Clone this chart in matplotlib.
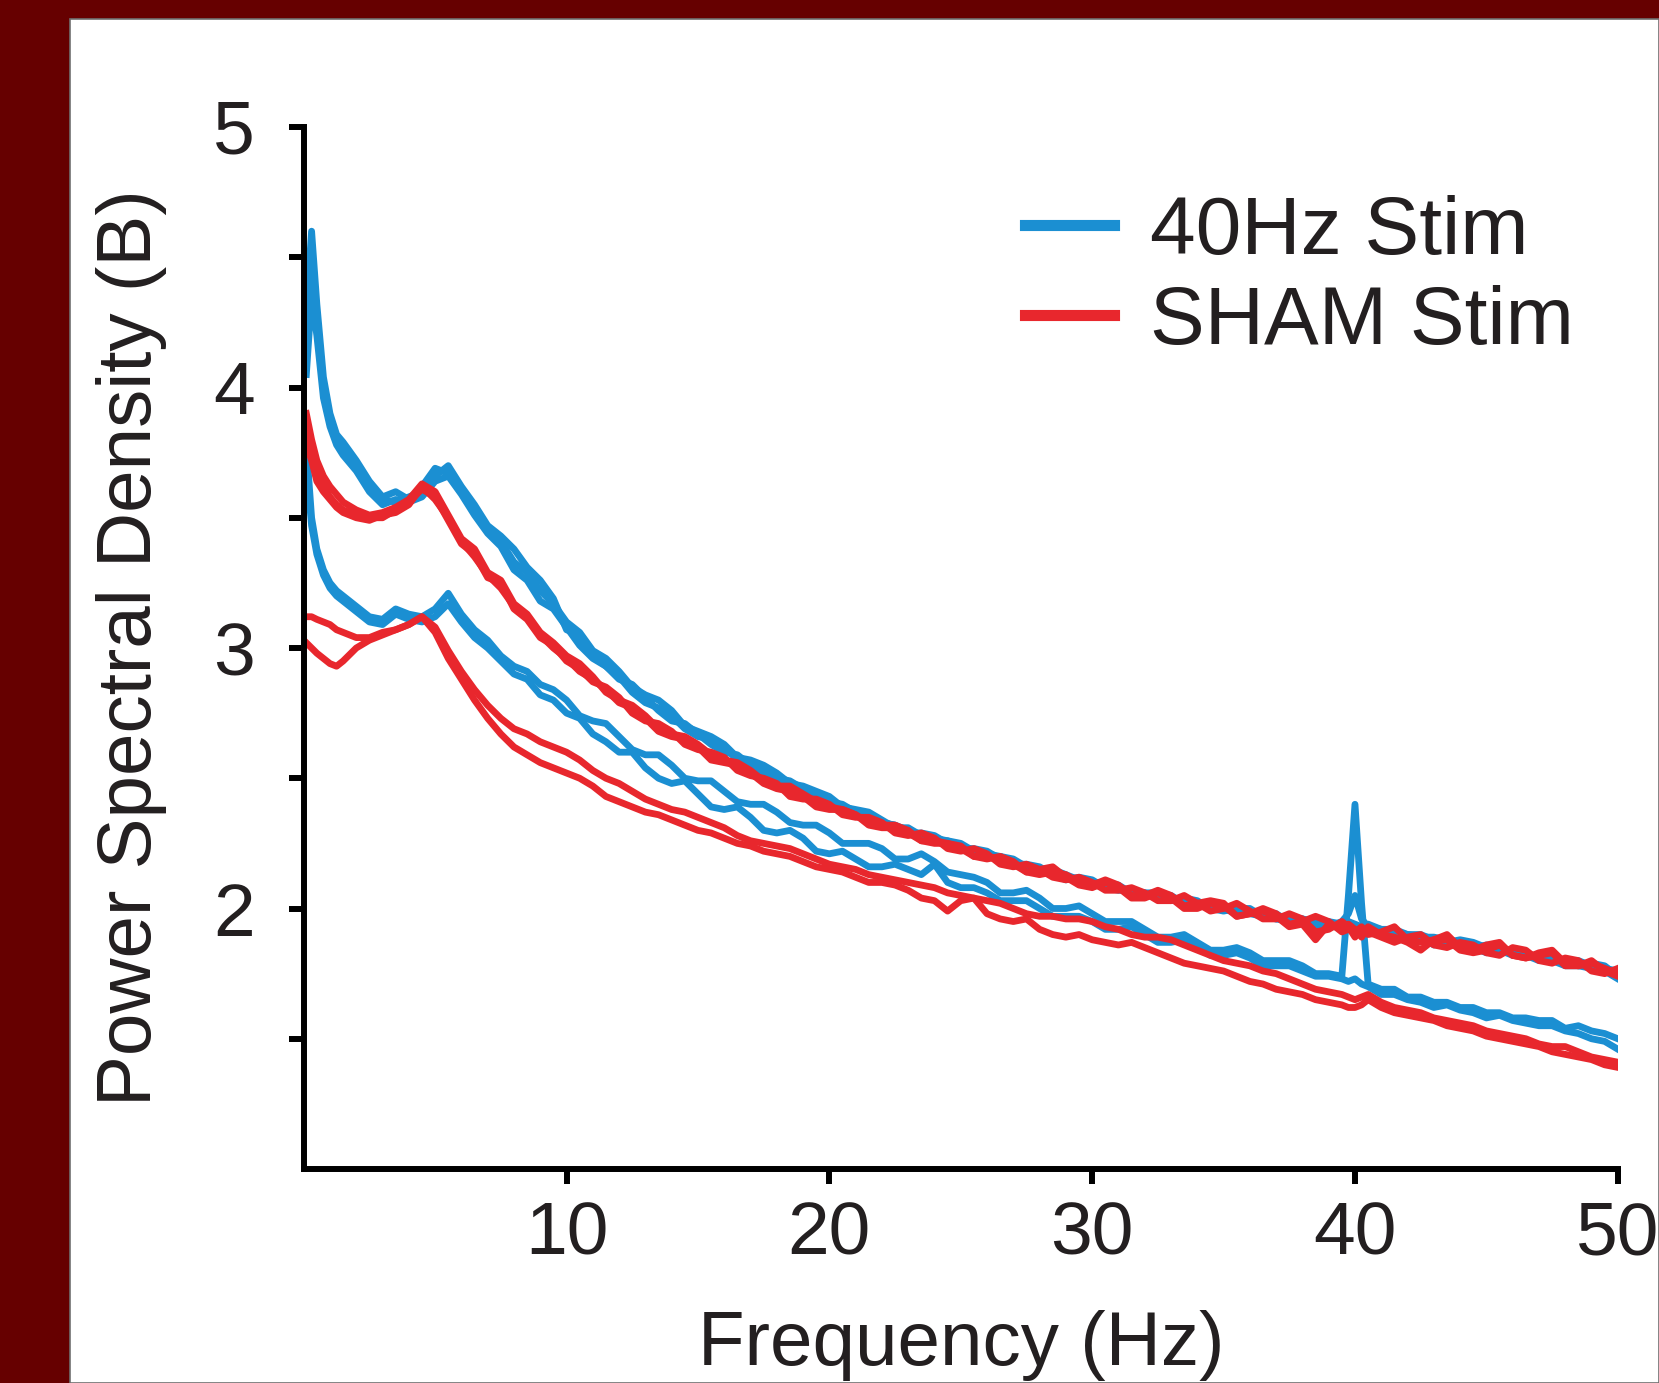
import matplotlib
matplotlib.use("Agg")
import matplotlib.pyplot as plt
import numpy as np
from matplotlib.patches import Rectangle

# frecuencias (Hz) comunes a todas las trazas
freq = np.concatenate([[0.1, 0.3, 0.5, 0.75, 1, 1.25, 1.5],
                       np.arange(2, 39.6, 0.5),
                       [39.75, 40, 40.25],
                       np.arange(40.5, 50.1, 0.5)])

# 40Hz Stim, grupo alto
bu1 = [4.30, 4.60, 4.32, 4.04, 3.90, 3.82, 3.79,
       3.72, 3.64, 3.58, 3.60, 3.57, 3.62, 3.69, 3.67, 3.61, 3.53, 3.46, 3.41, 3.33, 3.29, 3.22, 3.17,
       3.10, 3.06, 2.99, 2.96, 2.91, 2.85, 2.82, 2.80, 2.76, 2.70, 2.68, 2.66, 2.63, 2.58, 2.57, 2.55, 2.52, 2.48, 2.47, 2.45,
       2.43, 2.39, 2.38, 2.37, 2.34, 2.31, 2.31, 2.28, 2.27, 2.26, 2.25, 2.22, 2.21, 2.20, 2.19, 2.16, 2.15, 2.15, 2.13, 2.11,
       2.10, 2.10, 2.09, 2.06, 2.06, 2.06, 2.05, 2.02, 2.02, 2.01, 2.01, 1.99, 1.99, 1.98, 1.98, 1.95, 1.96, 1.95, 1.95, 1.94,
       1.95, 1.94, 1.93,
       1.94, 1.92, 1.91, 1.90, 1.90, 1.88, 1.87, 1.88, 1.87, 1.85, 1.84, 1.84, 1.83, 1.81, 1.81, 1.80, 1.80, 1.78, 1.77, 1.76]
bu2 = [4.20, 4.48, 4.28, 4.00, 3.87, 3.80, 3.76,
       3.70, 3.61, 3.57, 3.56, 3.58, 3.60, 3.66, 3.70, 3.62, 3.55, 3.47, 3.43, 3.38, 3.31, 3.26, 3.19,
       3.07, 3.05, 2.97, 2.93, 2.88, 2.86, 2.81, 2.76, 2.72, 2.71, 2.67, 2.63, 2.60, 2.59, 2.55, 2.52, 2.50, 2.49, 2.46, 2.43,
       2.41, 2.40, 2.37, 2.34, 2.33, 2.32, 2.29, 2.29, 2.28, 2.25, 2.23, 2.23, 2.22, 2.19, 2.17, 2.17, 2.16, 2.13, 2.11, 2.12,
       2.11, 2.08, 2.07, 2.07, 2.06, 2.04, 2.03, 2.04, 2.03, 2.00, 1.99, 2.00, 2.00, 1.97, 1.96, 1.97, 1.96, 1.94, 1.93, 1.95,
       1.98, 2.05, 1.96,
       1.93, 1.92, 1.92, 1.90, 1.89, 1.89, 1.88, 1.86, 1.85, 1.86, 1.85, 1.83, 1.82, 1.82, 1.82, 1.79, 1.78, 1.79, 1.78, 1.74]
bu3 = [4.05, 4.35, 4.20, 3.96, 3.85, 3.78, 3.74,
       3.68, 3.60, 3.55, 3.57, 3.56, 3.58, 3.64, 3.66, 3.59, 3.51, 3.44, 3.39, 3.30, 3.26, 3.18, 3.15,
       3.08, 3.01, 2.96, 2.93, 2.89, 2.83, 2.79, 2.77, 2.74, 2.69, 2.66, 2.65, 2.62, 2.57, 2.55, 2.54, 2.51, 2.47, 2.45, 2.44,
       2.42, 2.38, 2.36, 2.35, 2.33, 2.32, 2.30, 2.27, 2.26, 2.26, 2.24, 2.21, 2.20, 2.20, 2.18, 2.15, 2.14, 2.14, 2.12, 2.10,
       2.09, 2.09, 2.08, 2.05, 2.05, 2.05, 2.04, 2.01, 2.01, 2.01, 2.00, 1.98, 1.98, 1.97, 1.96, 1.95, 1.95, 1.93, 1.93, 1.93,
       1.94, 1.92, 1.93,
       1.92, 1.90, 1.91, 1.89, 1.89, 1.86, 1.87, 1.86, 1.85, 1.83, 1.84, 1.82, 1.82, 1.80, 1.80, 1.78, 1.78, 1.77, 1.76, 1.73]

# 40Hz Stim, grupo bajo
bl1 = [3.78, 3.50, 3.38, 3.30, 3.25, 3.22, 3.20,
       3.16, 3.12, 3.11, 3.15, 3.13, 3.12, 3.15, 3.21, 3.13, 3.07, 3.03, 2.97, 2.93, 2.91, 2.86, 2.84,
       2.80, 2.74, 2.72, 2.71, 2.66, 2.61, 2.59, 2.59, 2.55, 2.50, 2.49, 2.49, 2.45, 2.41, 2.40, 2.40, 2.37, 2.33, 2.32, 2.32,
       2.29, 2.25, 2.25, 2.25, 2.23, 2.19, 2.19, 2.21, 2.18, 2.14, 2.13, 2.12, 2.10, 2.06, 2.06, 2.07, 2.04, 2.00, 2.00, 2.01,
       1.98, 1.95, 1.95, 1.95, 1.92, 1.89, 1.89, 1.90, 1.87, 1.84, 1.84, 1.85, 1.83, 1.80, 1.80, 1.80, 1.78, 1.75, 1.75, 1.74,
       2.05, 2.40, 2.02,
       1.71, 1.69, 1.69, 1.66, 1.66, 1.64, 1.64, 1.62, 1.62, 1.60, 1.60, 1.58, 1.58, 1.57, 1.57, 1.54, 1.55, 1.53, 1.52, 1.50]
bl2 = [3.70, 3.47, 3.36, 3.28, 3.23, 3.20, 3.18,
       3.14, 3.10, 3.09, 3.13, 3.11, 3.10, 3.12, 3.17, 3.10, 3.04, 3.00, 2.95, 2.90, 2.88, 2.82, 2.80,
       2.75, 2.73, 2.67, 2.64, 2.60, 2.60, 2.54, 2.50, 2.48, 2.49, 2.44, 2.39, 2.38, 2.39, 2.35, 2.30, 2.29, 2.30, 2.27, 2.22,
       2.21, 2.22, 2.19, 2.16, 2.16, 2.17, 2.15, 2.13, 2.17, 2.10, 2.08, 2.08, 2.06, 2.03, 2.03, 2.03, 2.00, 1.97, 1.97, 1.97,
       1.95, 1.92, 1.92, 1.93, 1.90, 1.87, 1.87, 1.88, 1.85, 1.82, 1.82, 1.83, 1.81, 1.78, 1.78, 1.78, 1.76, 1.74, 1.74, 1.73,
       1.72, 1.73, 1.71,
       1.70, 1.67, 1.67, 1.65, 1.64, 1.62, 1.63, 1.61, 1.60, 1.58, 1.59, 1.57, 1.56, 1.55, 1.55, 1.53, 1.52, 1.50, 1.49, 1.46]

# SHAM Stim, grupo alto
ru1 = [3.90, 3.80, 3.72, 3.66, 3.62, 3.59, 3.56,
       3.53, 3.51, 3.52, 3.54, 3.57, 3.63, 3.60, 3.51, 3.42, 3.38, 3.29, 3.26, 3.17, 3.13, 3.06, 3.02,
       2.97, 2.94, 2.89, 2.83, 2.80, 2.78, 2.74, 2.69, 2.67, 2.66, 2.63, 2.59, 2.57, 2.56, 2.53, 2.49, 2.47, 2.47, 2.44, 2.41,
       2.39, 2.38, 2.36, 2.33, 2.32, 2.32, 2.30, 2.26, 2.25, 2.25, 2.24, 2.20, 2.19, 2.20, 2.18, 2.14, 2.13, 2.14, 2.13, 2.10,
       2.09, 2.11, 2.09, 2.05, 2.05, 2.07, 2.05, 2.01, 2.02, 2.03, 2.02, 1.97, 1.98, 2.00, 1.98, 1.94, 1.95, 1.97, 1.95, 1.91,
       1.92, 1.91, 1.93,
       1.90, 1.91, 1.93, 1.88, 1.87, 1.88, 1.90, 1.85, 1.84, 1.86, 1.87, 1.82, 1.81, 1.83, 1.84, 1.79, 1.78, 1.79, 1.77, 1.75]
ru2 = [3.84, 3.76, 3.68, 3.62, 3.58, 3.55, 3.53,
       3.51, 3.50, 3.50, 3.53, 3.56, 3.61, 3.58, 3.49, 3.40, 3.36, 3.27, 3.25, 3.15, 3.11, 3.04, 3.01,
       2.95, 2.92, 2.87, 2.85, 2.81, 2.75, 2.72, 2.71, 2.68, 2.63, 2.61, 2.60, 2.58, 2.53, 2.51, 2.50, 2.48, 2.43, 2.42, 2.42,
       2.40, 2.36, 2.35, 2.35, 2.33, 2.29, 2.28, 2.29, 2.27, 2.23, 2.22, 2.23, 2.21, 2.17, 2.16, 2.17, 2.15, 2.12, 2.11, 2.12,
       2.10, 2.07, 2.07, 2.08, 2.06, 2.03, 2.03, 2.05, 2.02, 1.99, 2.00, 2.02, 1.99, 1.96, 1.96, 1.98, 1.96, 1.91, 1.92, 1.95,
       1.93, 1.89, 1.92,
       1.91, 1.89, 1.87, 1.89, 1.90, 1.86, 1.85, 1.87, 1.86, 1.83, 1.82, 1.85, 1.84, 1.80, 1.79, 1.81, 1.80, 1.76, 1.75, 1.77]
ru3 = [3.78, 3.72, 3.64, 3.60, 3.57, 3.54, 3.52,
       3.50, 3.49, 3.51, 3.52, 3.55, 3.62, 3.57, 3.50, 3.41, 3.35, 3.28, 3.23, 3.16, 3.12, 3.05, 3.00,
       2.96, 2.91, 2.88, 2.84, 2.79, 2.77, 2.73, 2.68, 2.66, 2.65, 2.62, 2.57, 2.56, 2.55, 2.52, 2.48, 2.46, 2.45, 2.43, 2.39,
       2.38, 2.38, 2.36, 2.32, 2.31, 2.31, 2.29, 2.26, 2.26, 2.25, 2.23, 2.20, 2.20, 2.19, 2.17, 2.14, 2.15, 2.16, 2.12, 2.09,
       2.08, 2.10, 2.08, 2.04, 2.04, 2.06, 2.04, 2.00, 2.00, 2.02, 2.01, 1.97, 1.98, 1.99, 1.97, 1.93, 1.94, 1.88, 1.94, 1.92,
       1.94, 1.92, 1.89,
       1.93, 1.90, 1.89, 1.87, 1.84, 1.88, 1.88, 1.84, 1.83, 1.84, 1.86, 1.82, 1.81, 1.82, 1.83, 1.78, 1.78, 1.80, 1.76, 1.74]

# SHAM Stim, grupo bajo
rl1 = [3.12, 3.12, 3.11, 3.10, 3.09, 3.07, 3.06,
       3.04, 3.04, 3.06, 3.07, 3.09, 3.12, 3.08, 2.99, 2.91, 2.84, 2.78, 2.73, 2.69, 2.67, 2.64, 2.62,
       2.60, 2.57, 2.53, 2.50, 2.48, 2.45, 2.42, 2.40, 2.38, 2.37, 2.35, 2.33, 2.31, 2.28, 2.26, 2.25, 2.24, 2.23, 2.21, 2.19,
       2.17, 2.16, 2.15, 2.13, 2.12, 2.11, 2.10, 2.09, 2.08, 2.06, 2.05, 2.04, 2.03, 2.02, 2.00, 1.98, 1.97, 1.97, 1.96, 1.96,
       1.95, 1.93, 1.92, 1.90, 1.89, 1.89, 1.88, 1.86, 1.84, 1.82, 1.80, 1.79, 1.78, 1.76, 1.75, 1.73, 1.71, 1.69, 1.68, 1.67,
       1.66, 1.65, 1.66,
       1.67, 1.64, 1.62, 1.61, 1.60, 1.58, 1.57, 1.56, 1.55, 1.53, 1.52, 1.51, 1.50, 1.48, 1.47, 1.47, 1.45, 1.43, 1.42, 1.41]
rl2 = [3.02, 3.00, 2.98, 2.96, 2.94, 2.93, 2.95,
       3.00, 3.03, 3.05, 3.07, 3.09, 3.12, 3.06, 2.96, 2.88, 2.80, 2.73, 2.67, 2.62, 2.59, 2.56, 2.54,
       2.52, 2.50, 2.47, 2.43, 2.41, 2.39, 2.37, 2.36, 2.34, 2.32, 2.30, 2.29, 2.27, 2.25, 2.24, 2.22, 2.21, 2.20, 2.18, 2.16,
       2.15, 2.14, 2.12, 2.10, 2.10, 2.09, 2.07, 2.04, 2.03, 1.99, 2.03, 2.04, 1.98, 1.96, 1.95, 1.96, 1.92, 1.90, 1.89, 1.90,
       1.88, 1.87, 1.86, 1.87, 1.85, 1.83, 1.81, 1.79, 1.78, 1.77, 1.76, 1.74, 1.72, 1.71, 1.69, 1.68, 1.67, 1.65, 1.64, 1.63,
       1.62, 1.62, 1.63,
       1.65, 1.62, 1.60, 1.59, 1.58, 1.57, 1.55, 1.54, 1.53, 1.51, 1.50, 1.49, 1.48, 1.47, 1.45, 1.44, 1.43, 1.42, 1.40, 1.39]

azul = '#1b8fd2'
rojo = '#e8272d'
texto = '#231f20'

plt.rcParams['font.family'] = ['Liberation Sans', 'DejaVu Sans']

W, H = 1659, 1383
fig = plt.figure(figsize=(W / 100, H / 100), dpi=100)
fig.patch.set_facecolor('#660000')
# panel blanco detras de los ejes
fig.patches.append(Rectangle((70 / W, 0), 1 - 70 / W, 1 - 19 / H, transform=fig.transFigure,
                             facecolor='white', edgecolor='#6f6f6f', linewidth=1.2, zorder=-5))

ax = fig.add_axes([303.7 / W, 1 - 1169 / H, (1617.8 - 303.7) / W, (1169 - 127) / H])
ax.set_facecolor('none')
ax.set_zorder(2)

lw = 4.9
for tr in (bl2, bl1):
    ax.plot(freq, tr, color=azul, lw=lw, solid_joinstyle='round')
for tr in (rl2, rl1):
    ax.plot(freq, tr, color=rojo, lw=lw, solid_joinstyle='round')
for tr in (bu3, bu2, bu1):
    ax.plot(freq, tr, color=azul, lw=lw, solid_joinstyle='round')
for tr in (ru3, ru2, ru1):
    ax.plot(freq, tr, color=rojo, lw=lw, solid_joinstyle='round')

ax.set_xlim(0, 50)
ax.set_ylim(1, 5)
ax.set_xticks([10, 20, 30, 40, 50])
ax.set_yticks([2, 3, 4, 5])
ax.set_yticks([1.5, 2.5, 3.5, 4.5], minor=True)

for s in ('top', 'right'):
    ax.spines[s].set_visible(False)
for s in ('left', 'bottom'):
    ax.spines[s].set_linewidth(4.3)
    ax.spines[s].set_color('black')

ax.tick_params(axis='both', which='both', direction='out', width=4.3, length=11,
               color='black', labelcolor=texto, labelsize=54)
ax.tick_params(axis='y', which='both', pad=24)
ax.tick_params(axis='x', which='both', pad=12)

ax.set_xlabel('Frequency (Hz)', fontsize=55, color=texto, va='center')
ax.xaxis.set_label_coords(0.5, -0.169)
ax.set_ylabel('Power Spectral Density (B)', fontsize=55, color=texto, va='center')
ax.yaxis.set_label_coords(-0.131, 0.5)

h1, = ax.plot([], [], color=azul, lw=8)
h2, = ax.plot([], [], color=rojo, lw=8)
ax.legend([h1, h2], ['40Hz Stim', 'SHAM Stim'], loc='upper left',
          bbox_to_anchor=(1025 / W, 1 - 195 / H), bbox_transform=fig.transFigure,
          frameon=False, fontsize=59, handlelength=1.08, handletextpad=0.44,
          labelspacing=0.17, borderpad=0, borderaxespad=0, labelcolor=texto)

fig.savefig('out.png', dpi=100, facecolor=fig.get_facecolor())
